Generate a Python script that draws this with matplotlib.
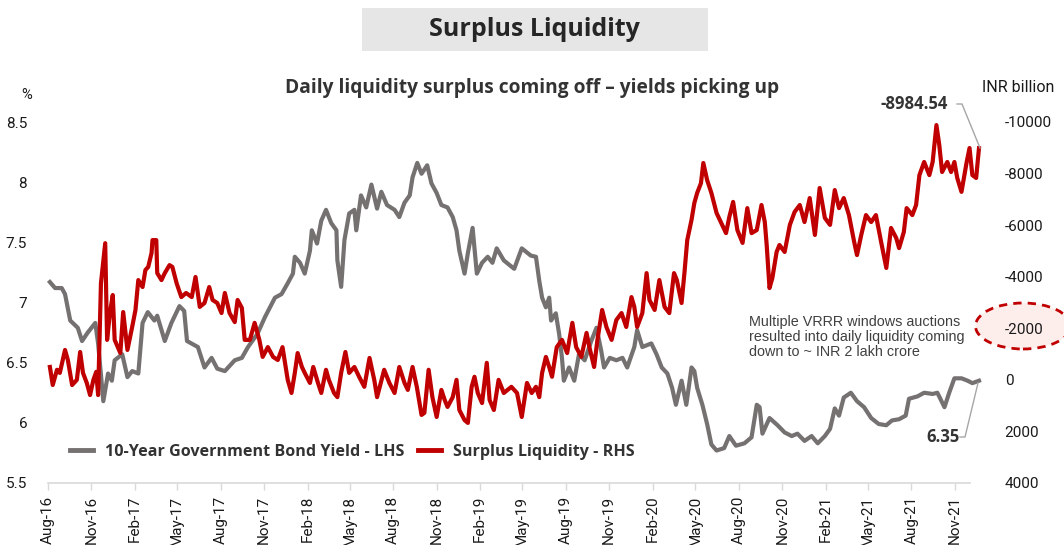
import matplotlib
matplotlib.use("Agg")
import matplotlib.pyplot as plt
import matplotlib.dates as mdates
from matplotlib.patches import Ellipse, Rectangle
from matplotlib.lines import Line2D
import pandas as pd

# ---------------- data ----------------
yield_dates = [
    "2016-08-05", "2016-08-16", "2016-08-30", "2016-09-06", "2016-09-17", "2016-10-03", "2016-10-12",
    "2016-10-24", "2016-11-09", "2016-11-15", "2016-11-26", "2016-12-06", "2016-12-14", "2016-12-20",
    "2017-01-05", "2017-01-16", "2017-01-26", "2017-02-08", "2017-02-17", "2017-02-28", "2017-03-14",
    "2017-03-20", "2017-04-05", "2017-04-19", "2017-05-06", "2017-05-16", "2017-05-22", "2017-06-14",
    "2017-06-28", "2017-07-13", "2017-07-25", "2017-08-10", "2017-08-31", "2017-09-15", "2017-09-28",
    "2017-10-18", "2017-11-03", "2017-11-24", "2017-12-08", "2017-12-21", "2018-01-01", "2018-01-05",
    "2018-01-16", "2018-01-26", "2018-02-06", "2018-02-10", "2018-02-21", "2018-03-02", "2018-03-12",
    "2018-03-23", "2018-04-03", "2018-04-05", "2018-04-13", "2018-04-20", "2018-04-30", "2018-05-11",
    "2018-05-15", "2018-05-25", "2018-06-05", "2018-06-16", "2018-06-28", "2018-07-07", "2018-07-19",
    "2018-08-04", "2018-08-14", "2018-08-25", "2018-09-05", "2018-09-11", "2018-09-21", "2018-09-30",
    "2018-10-12", "2018-10-21", "2018-11-01", "2018-11-11", "2018-11-24", "2018-12-05", "2018-12-13",
    "2018-12-19", "2018-12-30", "2019-01-06", "2019-01-16", "2019-01-25", "2019-02-05", "2019-02-17",
    "2019-02-27", "2019-03-08", "2019-03-23", "2019-04-14", "2019-04-30", "2019-05-19", "2019-05-30",
    "2019-06-06", "2019-06-12", "2019-06-20", "2019-06-27", "2019-07-01", "2019-07-11", "2019-07-18",
    "2019-07-24", "2019-07-28", "2019-08-08", "2019-08-19", "2019-08-29", "2019-09-10", "2019-09-24",
    "2019-10-05", "2019-10-15", "2019-10-21", "2019-11-02", "2019-11-16", "2019-11-29", "2019-12-09",
    "2019-12-24", "2019-12-30", "2020-01-10", "2020-01-29", "2020-02-09", "2020-02-20", "2020-03-03",
    "2020-03-13", "2020-03-21", "2020-04-02", "2020-04-12", "2020-04-23", "2020-04-29", "2020-05-05",
    "2020-05-16", "2020-05-26", "2020-06-04", "2020-06-15", "2020-07-01", "2020-07-12", "2020-07-26",
    "2020-08-13", "2020-08-28", "2020-09-08", "2020-09-14", "2020-09-20", "2020-10-05", "2020-10-22",
    "2020-11-06", "2020-11-21", "2020-12-03", "2020-12-18", "2021-01-02", "2021-01-15", "2021-01-30",
    "2021-02-10", "2021-02-20", "2021-03-01", "2021-03-11", "2021-03-26", "2021-04-08", "2021-04-23",
    "2021-05-08", "2021-05-24", "2021-06-09", "2021-06-21", "2021-07-06", "2021-07-20", "2021-07-27",
    "2021-08-14", "2021-08-28", "2021-09-15", "2021-09-25", "2021-10-10", "2021-10-20", "2021-10-31",
    "2021-11-15", "2021-11-28", "2021-12-08", "2021-12-22",
]
yield_values = [
    7.17, 7.12, 7.12, 7.07, 6.85, 6.79, 6.68,
    6.75, 6.83, 6.66, 6.18, 6.41, 6.35, 6.52,
    6.57, 6.38, 6.43, 6.41, 6.83, 6.92, 6.85,
    6.89, 6.68, 6.83, 6.97, 6.93, 6.68, 6.63,
    6.46, 6.54, 6.45, 6.43, 6.52, 6.54, 6.63,
    6.74, 6.88, 7.04, 7.07, 7.16, 7.24, 7.38,
    7.33, 7.24, 7.43, 7.60, 7.49, 7.68, 7.77,
    7.66, 7.60, 7.35, 7.13, 7.52, 7.74, 7.77,
    7.60, 7.89, 7.79, 7.98, 7.78, 7.92, 7.81,
    7.77, 7.71, 7.83, 7.89, 8.04, 8.16, 8.07,
    8.14, 7.99, 7.91, 7.81, 7.79, 7.71, 7.60,
    7.43, 7.24, 7.41, 7.62, 7.24, 7.33, 7.38,
    7.33, 7.45, 7.35, 7.28, 7.45, 7.39, 7.38,
    7.18, 7.04, 6.96, 7.04, 6.85, 6.91, 6.74,
    6.54, 6.35, 6.46, 6.35, 6.57, 6.52, 6.68,
    6.79, 6.60, 6.46, 6.54, 6.52, 6.54, 6.46,
    6.63, 6.77, 6.63, 6.66, 6.57, 6.46, 6.41,
    6.29, 6.15, 6.35, 6.15, 6.46, 6.43, 6.29,
    6.15, 5.99, 5.82, 5.77, 5.79, 5.89, 5.81,
    5.83, 5.88, 6.15, 6.13, 5.91, 6.04, 5.98,
    5.92, 5.89, 5.91, 5.85, 5.89, 5.83, 5.89,
    5.95, 6.12, 6.06, 6.21, 6.25, 6.18, 6.13,
    6.04, 5.99, 5.98, 6.02, 6.03, 6.06, 6.20,
    6.22, 6.25, 6.24, 6.25, 6.13, 6.25, 6.37,
    6.37, 6.35, 6.33, 6.35,
]

liq_dates = [
    "2016-08-05", "2016-08-11", "2016-08-20", "2016-08-26", "2016-09-06", "2016-09-12", "2016-09-21",
    "2016-10-01", "2016-10-08", "2016-10-14", "2016-10-22", "2016-10-29", "2016-11-05", "2016-11-11",
    "2016-11-15", "2016-11-21", "2016-11-30", "2016-12-04", "2016-12-10", "2016-12-16", "2016-12-20",
    "2017-01-01", "2017-01-07", "2017-01-16", "2017-01-26", "2017-02-02", "2017-02-08", "2017-02-17",
    "2017-02-23", "2017-03-01", "2017-03-08", "2017-03-10", "2017-03-18", "2017-03-20", "2017-03-29",
    "2017-04-05", "2017-04-15", "2017-04-21", "2017-04-30", "2017-05-10", "2017-05-20", "2017-06-01",
    "2017-06-09", "2017-06-18", "2017-06-28", "2017-07-08", "2017-07-15", "2017-07-25", "2017-08-03",
    "2017-08-10", "2017-08-20", "2017-08-31", "2017-09-06", "2017-09-15", "2017-09-21", "2017-10-02",
    "2017-10-12", "2017-10-22", "2017-10-29", "2017-11-09", "2017-11-20", "2017-11-30", "2017-12-10",
    "2017-12-21", "2017-12-29", "2018-01-05", "2018-01-11", "2018-01-20", "2018-01-26", "2018-02-06",
    "2018-02-13", "2018-02-23", "2018-03-02", "2018-03-12", "2018-03-18", "2018-03-29", "2018-04-05",
    "2018-04-13", "2018-04-22", "2018-04-30", "2018-05-11", "2018-05-21", "2018-06-01", "2018-06-12",
    "2018-06-22", "2018-06-28", "2018-07-13", "2018-07-24", "2018-08-04", "2018-08-14", "2018-08-25",
    "2018-09-01", "2018-09-11", "2018-09-20", "2018-09-30", "2018-10-06", "2018-10-15", "2018-10-23",
    "2018-11-01", "2018-11-11", "2018-11-18", "2018-11-24", "2018-12-05", "2018-12-13", "2018-12-19",
    "2018-12-30", "2019-01-06", "2019-01-14", "2019-01-20", "2019-01-27", "2019-02-05", "2019-02-15",
    "2019-02-21", "2019-03-02", "2019-03-12", "2019-03-23", "2019-04-08", "2019-04-20", "2019-04-30",
    "2019-05-11", "2019-05-21", "2019-05-30", "2019-06-06", "2019-06-12", "2019-06-20", "2019-06-27",
    "2019-07-03", "2019-07-13", "2019-07-24", "2019-08-04", "2019-08-15", "2019-08-23", "2019-09-03",
    "2019-09-14", "2019-09-20", "2019-09-30", "2019-10-07", "2019-10-17", "2019-10-26", "2019-11-06",
    "2019-11-16", "2019-11-27", "2019-12-07", "2019-12-18", "2019-12-24", "2019-12-30", "2020-01-10",
    "2020-01-19", "2020-01-25", "2020-02-05", "2020-02-15", "2020-02-26", "2020-03-07", "2020-03-17",
    "2020-03-23", "2020-04-02", "2020-04-08", "2020-04-14", "2020-04-23", "2020-04-29", "2020-05-05",
    "2020-05-13", "2020-05-18", "2020-05-26", "2020-06-04", "2020-06-15", "2020-06-25", "2020-07-05",
    "2020-07-12", "2020-07-20", "2020-07-29", "2020-08-09", "2020-08-19", "2020-08-28", "2020-09-08",
    "2020-09-18", "2020-09-25", "2020-09-29", "2020-10-05", "2020-10-11", "2020-10-20", "2020-10-26",
    "2020-11-06", "2020-11-17", "2020-11-27", "2020-12-08", "2020-12-18", "2020-12-29", "2021-01-09",
    "2021-01-19", "2021-01-30", "2021-02-10", "2021-02-20", "2021-03-01", "2021-03-11", "2021-03-22",
    "2021-04-02", "2021-04-08", "2021-04-17", "2021-04-27", "2021-05-08", "2021-05-18", "2021-05-29",
    "2021-06-09", "2021-06-19", "2021-06-30", "2021-07-06", "2021-07-16", "2021-07-22", "2021-08-03",
    "2021-08-11", "2021-08-18", "2021-08-28", "2021-09-08", "2021-09-15", "2021-09-23", "2021-09-29",
    "2021-10-05", "2021-10-16", "2021-10-24", "2021-10-31", "2021-11-06", "2021-11-15", "2021-11-26",
    "2021-12-02", "2021-12-08", "2021-12-16", "2021-12-22",
]
liq_values = [
    -500, 200, -390, -270, -1160, -770, 200,
    0, -1080, -270, 120, 590, 0, -310,
    590, -3750, -5300, -1550, -2600, -3290, -1550,
    -1040, -2630, -1160, -2050, -2710, -3870, -3600,
    -4260, -4380, -4920, -5420, -5420, -4140, -3870,
    -4140, -4450, -4380, -3750, -3210, -3370, -3210,
    -3990, -2830, -2980, -3600, -3100, -2980, -2590,
    -3370, -2590, -2240, -3100, -2790, -1550, -1550,
    -2210, -1550, -890, -1270, -890, -770, -1270,
    0, 510, -270, -1040, -500, -270, 120,
    -500, 120, 510, -390, 0, 510, 670,
    -270, -1080, -270, -500, -120, 270, -850,
    0, 670, -390, 120, 510, -500, 120,
    390, -500, 270, 1360, 1280, -390, 670,
    1440, 390, 780, 1050, 670, 0, 1170,
    1560, 1670, 270, -120, 510, 900, -660,
    780, 1170, 0, 510, 270, 510, 1440,
    120, 510, 270, 670, -270, -890, -500,
    -120, -1270, -1550, -1040, -2210, -1270, -890,
    -1820, -1270, -500, -1550, -2710, -2050, -1550,
    -2320, -2590, -2050, -3210, -2830, -2050, -2590,
    -4140, -3100, -2710, -3870, -2830, -2590, -4140,
    -3870, -2980, -4140, -5420, -6200, -6860, -7250,
    -7630, -8410, -7750, -7250, -6470, -6080, -5690,
    -6320, -6900, -5810, -5310, -6660, -5690, -5810,
    -6780, -6120, -5230, -3560, -3950, -4960, -5230,
    -4960, -6010, -6510, -6780, -6120, -7050, -5620,
    -7440, -6280, -6010, -7360, -6660, -7050, -6390,
    -5350, -4840, -5620, -6390, -6120, -6390, -5350,
    -4340, -5890, -5500, -5110, -5730, -6660, -6390,
    -6780, -7940, -8450, -7940, -8450, -9880, -9110,
    -8060, -8450, -8060, -8450, -7830, -7290, -8450,
    -8990, -7940, -7830, -8984.54,
]

left_ticks = [5.5, 6.0, 6.5, 7.0, 7.5, 8.0, 8.5]
left_labels = ["5.5", "6", "6.5", "7", "7.5", "8", "8.5"]
right_ticks = [-10000, -8000, -6000, -4000, -2000, 0, 2000, 4000]
right_labels = ["-10000", "-8000", "-6000", "-4000", "-2000", "0", "2000", "4000"]

title = "Surplus Liquidity"
subtitle = "Daily liquidity surplus coming off \u2013 yields picking up"
yield_label = "10-Year Government Bond Yield - LHS"
liq_label = "Surplus Liquidity - RHS"
note = "Multiple VRRR windows auctions\nresulted into daily liquidity coming\ndown to ~ INR 2 lakh crore"
last_liq_label = "-8984.54"
last_yield_label = "6.35"

# ---------------- styling ----------------
GRAY = "#767171"
RED = "#C00000"
TXT = "#333333"
W, H = 1064, 545

def fx(x):
    return x / W

def fy(y):
    return 1 - y / H

fig = plt.figure(figsize=(W / 100, H / 100), dpi=100)

# highlight ellipse behind the right axis labels
fig.patches.append(Ellipse((fx(1023), fy(326)), fx(95), fx(46) * W / H,
                           transform=fig.transFigure, facecolor="#fdeeec",
                           edgecolor=RED, lw=2, ls=(0, (3, 2.2)), zorder=-5))

ax = fig.add_axes([fx(48), fy(483), fx(970) - fx(48), fy(122) - fy(483)])
ax2 = ax.twinx()
ax.set_facecolor("none")
ax2.set_facecolor("none")

yd = pd.to_datetime(yield_dates)
ld = pd.to_datetime(liq_dates)

ax.plot(yd, yield_values, color=GRAY, lw=3.0, solid_joinstyle="round", clip_on=False, zorder=2)
ax2.plot(ld, liq_values, color=RED, lw=3.0, solid_joinstyle="round", clip_on=False, zorder=3)

ax.set_ylim(5.5, 8.5)
ax2.set_ylim(4000, -10000)
ax.set_xlim(pd.Timestamp("2016-08-01"), pd.Timestamp("2021-12-03"))

ax.set_yticks(left_ticks)
ax.set_yticklabels(left_labels)
ax2.set_yticks(right_ticks)
ax2.set_yticklabels(right_labels, ha="left")

ax.xaxis.set_major_locator(mdates.MonthLocator(bymonth=[2, 5, 8, 11]))
ax.xaxis.set_major_formatter(mdates.DateFormatter("%b-%y"))

for lab in ax.get_yticklabels() + ax2.get_yticklabels():
    lab.set_fontfamily("Roboto"); lab.set_fontsize(11); lab.set_color("#1a1a1a")
for lab in ax.get_xticklabels():
    lab.set_fontfamily("Roboto"); lab.set_fontsize(11); lab.set_rotation(90); lab.set_color("#1a1a1a")

ax.tick_params(axis="y", length=0, pad=15)
ax2.tick_params(axis="y", length=0, pad=25)
ax.tick_params(axis="x", length=5, width=1, color="#d9d9d9", pad=4)

for a in (ax, ax2):
    for s in ("top", "left", "right"):
        a.spines[s].set_visible(False)
ax2.spines["bottom"].set_visible(False)
ax.spines["bottom"].set_color("#d9d9d9")
ax.spines["bottom"].set_linewidth(1.2)

# ---------------- title block ----------------
fig.patches.append(Rectangle((fx(362), fy(51)), fx(708) - fx(362), fy(8) - fy(51),
                             transform=fig.transFigure, facecolor="#e7e6e6", edgecolor="none"))
fig.text(fx(534), fy(29), title, ha="center", va="center", fontsize=18,
         fontweight="bold", family="Open Sans", color="#262626")
fig.text(fx(532), fy(88), subtitle, ha="center", va="center", fontsize=13.8,
         fontweight="bold", family="Open Sans", color=TXT)
fig.text(fx(27), fy(95), "%", ha="center", va="center", fontsize=10.5,
         family="Roboto", color="#1a1a1a")
fig.text(fx(1018), fy(88), "INR billion", ha="center", va="center", fontsize=11.5,
         family="Roboto", color="#1a1a1a")

# ---------------- legend ----------------
handles = [Line2D([], [], color=GRAY, lw=3.5), Line2D([], [], color=RED, lw=3.5)]
fig.legend(handles, [yield_label, liq_label], loc="center left",
           bbox_to_anchor=(fx(70), fy(452)), ncol=2, frameon=False,
           handlelength=1.45, handletextpad=0.75, columnspacing=0.8, borderpad=0,
           borderaxespad=0,
           prop=dict(family="Open Sans", weight="bold", size=11.6), labelcolor=TXT)

# ---------------- annotations ----------------
fig.text(fx(914), fy(104), last_liq_label, ha="center", va="center", fontsize=12,
         fontweight="bold", family="Open Sans", color=TXT)
fig.add_artist(Line2D([fx(957), fx(962), fx(980)], [fy(104), fy(104), fy(148)],
                      transform=fig.transFigure, color="#a6a6a6", lw=1))
fig.text(fx(943), fy(437), last_yield_label, ha="center", va="center", fontsize=12,
         fontweight="bold", family="Open Sans", color=TXT)
fig.add_artist(Line2D([fx(960), fx(965), fx(978)], [fy(437), fy(437), fy(383)],
                      transform=fig.transFigure, color="#a6a6a6", lw=1))

fig.text(fx(749), fy(315), note, ha="left", va="top", fontsize=10.4,
         family="Liberation Sans", color="#404040", linespacing=1.1)

fig.savefig("out.png", dpi=100)
